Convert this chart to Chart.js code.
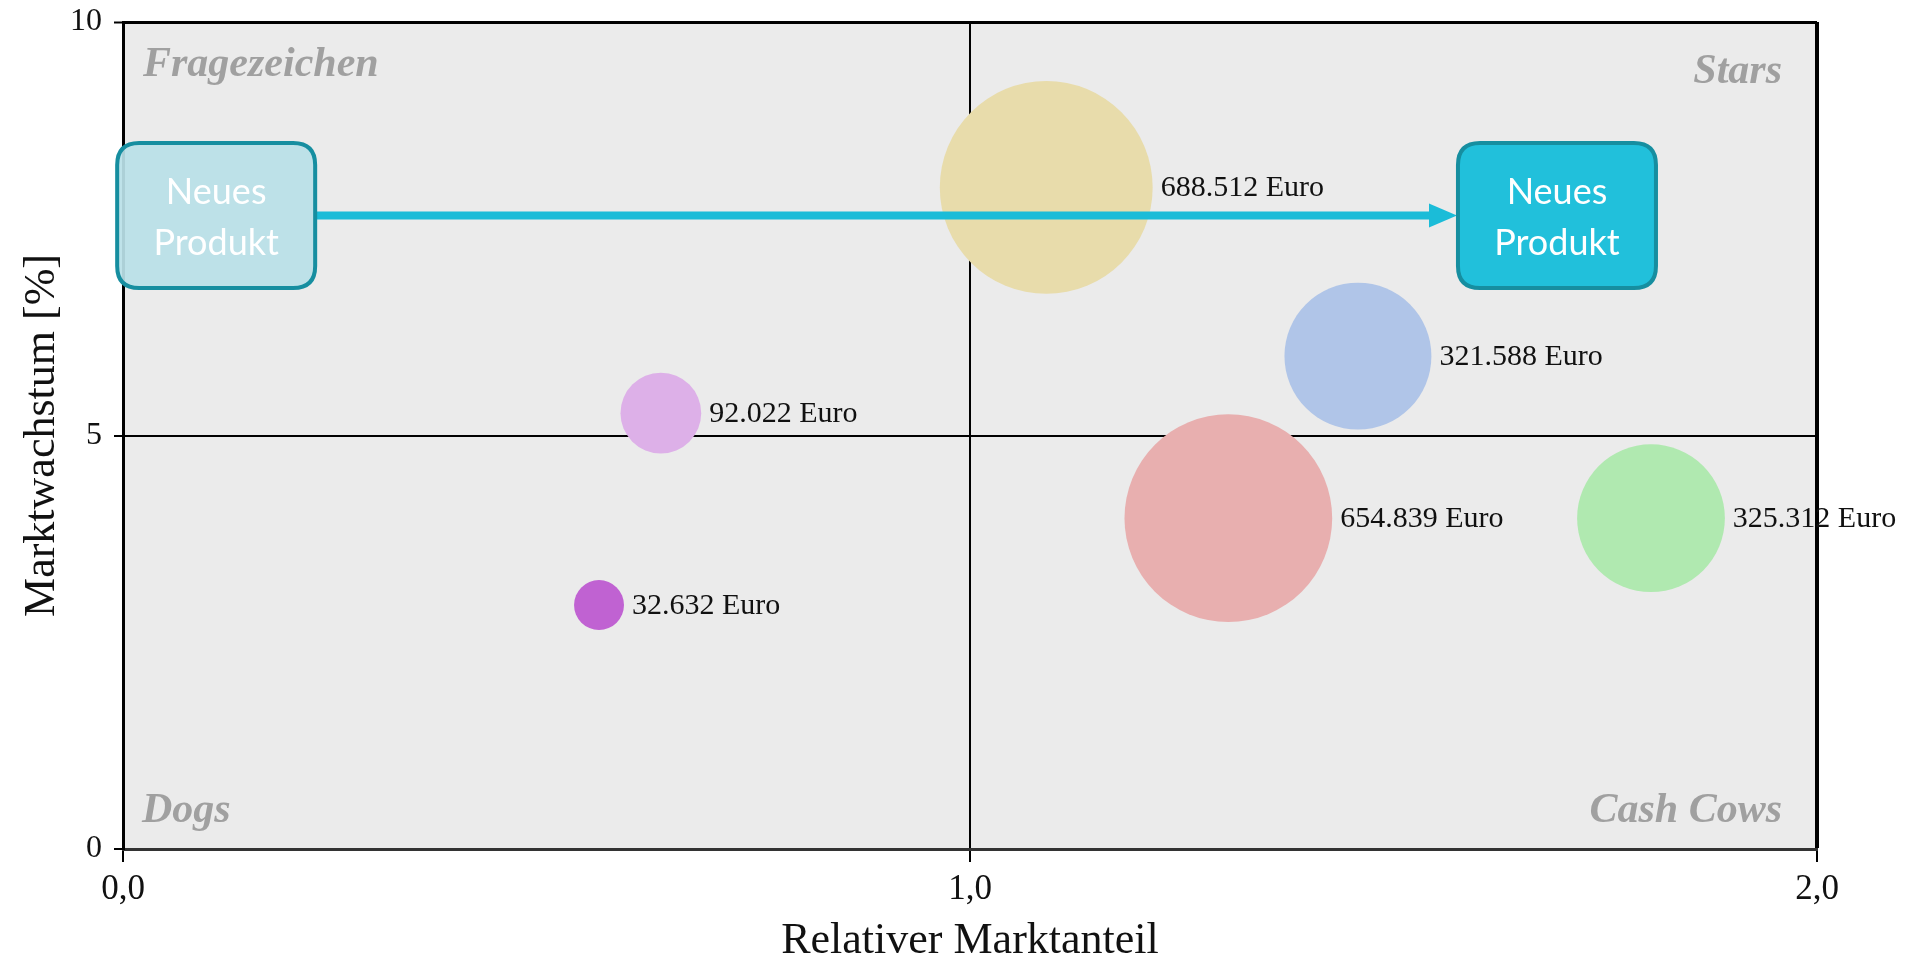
<!DOCTYPE html>
<html><head><meta charset="utf-8">
<script src="https://cdn.jsdelivr.net/npm/chart.js@4/dist/chart.umd.min.js"></script>
<style>html,body{margin:0;padding:0;background:#fff;}#wrap{width:1913px;height:959px;position:relative;}</style>
</head><body><div id="wrap"><canvas id="c"></canvas></div>
<script>
// ---- data ----
const relMarketShare = [1.09, 1.305, 1.458, 1.804, 0.635, 0.562];
const marketGrowth   = [8.0, 4.0, 5.96, 4.0, 5.27, 2.95];
const revenueEuro    = [688512, 654839, 321588, 325312, 92022, 32632];
const revenueLabels  = ['688.512 Euro', '654.839 Euro', '321.588 Euro', '325.312 Euro', '92.022 Euro', '32.632 Euro'];
const xTickValues = [0, 1, 2];
const xTickLabels = ['0,0', '1,0', '2,0'];
const yTickValues = [0, 5, 10];
const yTickLabels = ['0', '5', '10'];
const quadrantLabels = ['Fragezeichen', 'Stars', 'Dogs', 'Cash Cows'];
const newProductText = ['Neues', 'Produkt'];
const newProductFrom = {x: 0.11, y: 7.66};
const newProductTo   = {x: 1.693, y: 7.66};

// ---- styles ----
const bubbleColors = ['#e8dcab', '#e8afaf', '#b0c5e8', '#b0e9b0', '#ddb0e8', '#c062d2'];
const SERIF = '"Liberation Serif", "Times New Roman", serif';

const points = relMarketShare.map((x, i) => ({x: x, y: marketGrowth[i], v: revenueEuro[i]}));

function roundRect(ctx, x, y, w, h, r) {
  ctx.beginPath();
  ctx.moveTo(x + r, y);
  ctx.lineTo(x + w - r, y);
  ctx.quadraticCurveTo(x + w, y, x + w, y + r);
  ctx.lineTo(x + w, y + h - r);
  ctx.quadraticCurveTo(x + w, y + h, x + w - r, y + h);
  ctx.lineTo(x + r, y + h);
  ctx.quadraticCurveTo(x, y + h, x, y + h - r);
  ctx.lineTo(x, y + r);
  ctx.quadraticCurveTo(x, y, x + r, y);
  ctx.closePath();
}

const bgPlugin = {
  id: 'bg',
  beforeDraw(chart) {
    const a = chart.chartArea, ctx = chart.ctx;
    ctx.save();
    ctx.fillStyle = '#ebebeb';
    ctx.fillRect(a.left, a.top, a.right - a.left, a.bottom - a.top);
    ctx.restore();
  },
  beforeDatasetsDraw(chart) {
    const a = chart.chartArea, ctx = chart.ctx;
    ctx.save();
    ctx.fillStyle = '#a0a0a0';
    ctx.font = 'bold italic 42px ' + SERIF;
    ctx.textBaseline = 'alphabetic';
    ctx.textAlign = 'left';
    ctx.fillText(quadrantLabels[0], a.left + 20, a.top + 54);
    ctx.fillText(quadrantLabels[2], a.left + 19, a.bottom - 27);
    ctx.textAlign = 'right';
    ctx.fillText(quadrantLabels[1], a.right - 35, a.top + 61);
    ctx.fillText(quadrantLabels[3], a.right - 35, a.bottom - 27);
    ctx.restore();
  },
  afterDatasetsDraw(chart) {
    const ctx = chart.ctx;
    const xs = chart.scales.x, ys = chart.scales.y;
    // arrow + boxes
    const bw = 198, bh = 145;
    const fx = xs.getPixelForValue(newProductFrom.x), fy = ys.getPixelForValue(newProductFrom.y);
    const tx = xs.getPixelForValue(newProductTo.x), ty = ys.getPixelForValue(newProductTo.y);
    ctx.save();
    const startX = fx + bw / 2, endX = tx - bw / 2 - 1;
    ctx.strokeStyle = '#1bbcd8';
    ctx.lineWidth = 8;
    ctx.beginPath();
    ctx.moveTo(startX, fy);
    ctx.lineTo(endX - 24, ty);
    ctx.stroke();
    ctx.fillStyle = '#1bbcd8';
    ctx.beginPath();
    ctx.moveTo(endX, ty);
    ctx.lineTo(endX - 28, ty - 12);
    ctx.lineTo(endX - 28, ty + 12);
    ctx.closePath();
    ctx.fill();
    const boxes = [[fx, fy, 'rgba(185,224,231,0.93)'], [tx, ty, '#21c0db']];
    boxes.forEach(b => {
      roundRect(ctx, b[0] - bw / 2, b[1] - bh / 2, bw, bh, 22);
      ctx.fillStyle = b[2];
      ctx.fill();
      ctx.lineWidth = 4;
      ctx.strokeStyle = '#168ea0';
      ctx.stroke();
      ctx.fillStyle = '#ffffff';
      ctx.font = '36px Lato, "Open Sans", sans-serif';
      ctx.textAlign = 'center';
      ctx.textBaseline = 'alphabetic';
      ctx.fillText(newProductText[0], b[0], b[1] - 12);
      ctx.fillText(newProductText[1], b[0], b[1] + 39);
    });
    // value labels
    const meta = chart.getDatasetMeta(0);
    ctx.fillStyle = '#111';
    ctx.font = '30px ' + SERIF;
    ctx.textAlign = 'left';
    ctx.textBaseline = 'middle';
    meta.data.forEach((el, i) => {
      const r = el.options.radius;
      ctx.fillText(revenueLabels[i], el.x + r + 8, el.y + 1);
    });
    ctx.restore();
  }
};

new Chart(document.getElementById('c'), {
  type: 'bubble',
  data: {
    datasets: [{
      data: points,
      backgroundColor: bubbleColors,
      borderWidth: 0,
      hoverBorderWidth: 0,
      radius: (ctx) => {
        const v = ctx.raw ? ctx.raw.v : 0;
        return 2.3 + 0.1255 * Math.sqrt(v);
      }
    }]
  },
  options: {
    responsive: true,
    maintainAspectRatio: false,
    animation: false,
    events: [],
    layout: {autoPadding: false, padding: {top: 22, right: 96, left: 0, bottom: 0}},
    plugins: {legend: {display: false}, tooltip: {enabled: false}},
    scales: {
      x: {
        type: 'linear', min: 0, max: 2, z: 1,
        afterFit(s) { s.height = 110; s.paddingLeft = 0; s.paddingRight = 0; s.paddingTop = 0; s.paddingBottom = 0; },
        afterBuildTicks(s) { s.ticks = xTickValues.map(v => ({value: v})); },
        ticks: {
          callback: (v) => xTickLabels[xTickValues.indexOf(v)],
          font: {family: SERIF, size: 35}, color: '#111', padding: 7, maxRotation: 0
        },
        grid: {
          color: (c) => (c.tick && c.tick.value > 0) ? '#000' : 'rgba(0,0,0,0)',
          lineWidth: (c) => (c.tick && c.tick.value === 2) ? 4 : 2,
          tickColor: '#000', tickLength: 13, tickWidth: 2, drawTicks: true
        },
        border: {display: true, color: '#333', width: 3},
        title: {display: true, text: 'Relativer Marktanteil', font: {family: SERIF, size: 44, lineHeight: 0.82}, color: '#111', padding: {top: 0, bottom: 0}}
      },
      y: {
        type: 'linear', min: 0, max: 10, z: 1,
        afterFit(s) { s.width = 123; s.paddingLeft = 0; s.paddingRight = 0; s.paddingTop = 0; s.paddingBottom = 0; },
        afterBuildTicks(s) { s.ticks = yTickValues.map(v => ({value: v})); },
        ticks: {
          callback: (v) => yTickLabels[yTickValues.indexOf(v)],
          font: {family: SERIF, size: 32}, color: '#111', padding: 12
        },
        grid: {
          color: (c) => (c.tick && c.tick.value > 0) ? '#000' : 'rgba(0,0,0,0)',
          lineWidth: (c) => (c.tick && c.tick.value === 10) ? 3 : 2,
          tickColor: '#000', tickLength: 9, tickWidth: 2, drawTicks: true
        },
        border: {display: true, color: '#000', width: 3},
        title: {display: true, text: 'Marktwachstum [%]', font: {family: SERIF, size: 44, lineHeight: 1}, color: '#111', padding: {top: 20, bottom: 0}}
      }
    }
  },
  plugins: [bgPlugin]
});
</script>
</body></html>
